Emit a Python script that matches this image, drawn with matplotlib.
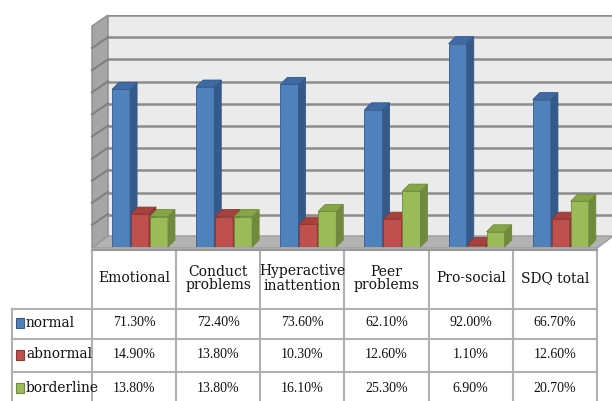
import matplotlib
matplotlib.use("Agg")
import matplotlib.pyplot as plt
from matplotlib.patches import Polygon, Rectangle

# Data
categories = ["Emotional", "Conduct\nproblems", "Hyperactive\ninattention",
              "Peer\nproblems", "Pro-social", "SDQ total"]
series = ["normal", "abnormal", "borderline"]
normal = [71.3, 72.4, 73.6, 62.1, 92.0, 66.7]
abnormal = [14.9, 13.8, 10.3, 12.6, 1.1, 12.6]
borderline = [13.8, 13.8, 16.1, 25.3, 6.9, 20.7]
values = [normal, abnormal, borderline]

front_colors = ["#4f81bd", "#c0504d", "#9bbb59"]
side_colors = ["#345a8a", "#8c3836", "#6f8a3c"]
top_colors = ["#3e6aa6", "#a8413e", "#86a545"]

W, H = 612, 401


def box(x0, y_top, x1, y_bottom):
    # pixel box -> figure fraction [left, bottom, width, height]
    return [x0 / W, 1 - y_bottom / H, (x1 - x0) / W, (y_bottom - y_top) / H]


def main():
    fig = plt.figure(figsize=(W / 100, H / 100), dpi=100)
    serif = "DejaVu Serif"

    # back wall with gridlines
    ax_back = fig.add_axes(box(108, 15, 612, 237))
    ax_back.set_facecolor("#ebebeb")
    ax_back.set_xlim(-0.5, 5.5)
    ax_back.set_ylim(0, 100)
    ax_back.set_yticks(range(0, 101, 10))
    ax_back.set_xticks([])
    ax_back.yaxis.grid(True, color="#8c8c8c", lw=1.8)
    ax_back.tick_params(left=False, labelleft=False)
    for s in ax_back.spines.values():
        s.set_visible(False)
    ax_back.set_zorder(0)

    # front plane where the bars stand
    ax = fig.add_axes(box(92, 26, 597, 247))
    ax.set_xlim(-0.5, 5.5)
    ax.set_ylim(0, 100)
    ax.patch.set_alpha(0)
    ax.axis("off")
    ax.set_zorder(1)

    n = len(categories)
    dx, dy = 16 / 84.17, 11 / 2.22      # depth of the walls
    ddx, ddy = 7 / 84.17, 7 / 2.22      # depth of a bar

    # left side wall
    ax.add_patch(Polygon([(-0.5, -0.5), (-0.5, 100), (-0.5 + dx, 100 + dy),
                          (-0.5 + dx, dy)], closed=True, fc="#a6a6a6",
                         ec="#8c8c8c", lw=1, clip_on=False, zorder=1))
    for v in range(10, 100, 10):
        ax.plot([-0.5, -0.5 + dx], [v, v + dy], color="#808080", lw=1.5,
                clip_on=False, zorder=2)
    # floor
    ax.add_patch(Polygon([(-0.5, -0.5), (n - 0.5, -0.5), (n - 0.5 + dx, dy),
                          (-0.5 + dx, dy)], closed=True, fc="#b3b3b3",
                         ec="#9a9a9a", lw=1, clip_on=False, zorder=1))

    offsets = [-0.155, 0.07, 0.295]
    width = 0.215
    z = 3
    for i in range(n):
        for k in range(len(series)):
            h = values[k][i]
            xc = i + offsets[k]
            x0 = xc - width / 2
            x1 = xc + width / 2
            ax.bar(xc, h, width=width, color=front_colors[k],
                   edgecolor=side_colors[k], lw=0.6, zorder=z)
            ax.add_patch(Polygon([(x1, 0), (x1, h), (x1 + ddx, h + ddy),
                                  (x1 + ddx, ddy)], closed=True,
                                 fc=side_colors[k], ec=side_colors[k],
                                 lw=0.6, zorder=z, clip_on=False))
            ax.add_patch(Polygon([(x0, h), (x1, h), (x1 + ddx, h + ddy),
                                  (x0 + ddx, h + ddy)], closed=True,
                                 fc=top_colors[k], ec=side_colors[k],
                                 lw=0.6, zorder=z, clip_on=False))
            z += 1

    # data table
    tab = fig.add_axes(box(92, 250, 597, 401))
    tab.set_xlim(-0.5, 5.5)
    tab.set_ylim(151, 0)
    tab.axis("off")
    rows = [0, 59, 89, 122, 156]
    label_left = -0.5 - 80 / 84.17
    line_c = "#b0b0b0"

    for i in range(n + 1):
        tab.plot([i - 0.5, i - 0.5], [0, 160], color=line_c, lw=1.5,
                 clip_on=False)
    tab.plot([label_left, label_left], [rows[1], 160], color=line_c, lw=1.5,
             clip_on=False)
    tab.plot([-0.5, n - 0.5], [0, 0], color="#9a9a9a", lw=1.5, clip_on=False)
    for r in rows[1:4]:
        tab.plot([label_left, n - 0.5], [r, r], color=line_c, lw=1.5,
                 clip_on=False)

    for i, c in enumerate(categories):
        tab.text(i, rows[1] / 2 - 1, c, ha="center", va="center",
                 family=serif, fontsize=10, linespacing=1.0, color="#111111")
    for k, name in enumerate(series):
        yc = (rows[k + 1] + rows[k + 2]) / 2 - 1
        tab.add_patch(Rectangle((label_left + 0.045, yc - 5), 0.1, 10,
                                fc=front_colors[k], ec=side_colors[k],
                                lw=0.8, clip_on=False))
        tab.text(label_left + 0.165, yc, name, ha="left", va="center",
                 family=serif, fontsize=9.9, color="#111111")
        for i in range(n):
            tab.text(i, yc, f"{values[k][i]:.2f}%", ha="center", va="center",
                     family="Liberation Serif", fontsize=10,
                     color="#111111")

    fig.savefig("out.png", dpi=100)


if __name__ == "__main__":
    main()
